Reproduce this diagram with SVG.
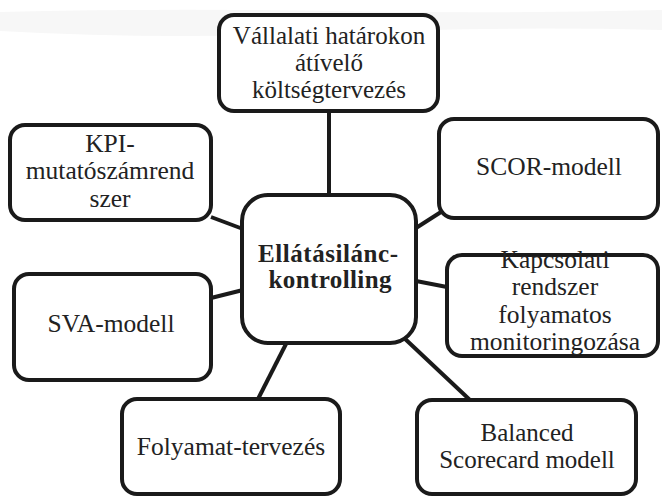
<svg xmlns="http://www.w3.org/2000/svg" width="662" height="498" viewBox="0 0 662 498">
<style>
.box{fill:#fff;stroke:#1a1a1a;stroke-width:4}
.t{font-family:'Liberation Serif','DejaVu Serif',serif;font-size:25.5px;fill:#222;text-anchor:middle}
.s{font-size:25px}
.b{font-weight:bold;font-size:25px}
.c line{stroke:#1a1a1a;stroke-width:4;stroke-linecap:butt}
</style>
<rect width="662" height="498" fill="#fff"/>
<path d="M0 12 Q160 8 330 11 T662 10 L662 30 Q500 26 330 33 T0 31 Z" fill="#f7f7f7"/>
<g class="c" id="connectors">
<line x1="329" y1="111" x2="329" y2="196"/>
<line x1="211" y1="217" x2="243" y2="229"/>
<line x1="416" y1="228" x2="441" y2="212"/>
<line x1="416" y1="281" x2="447" y2="287"/>
<line x1="211" y1="298" x2="243" y2="290"/>
<line x1="287" y1="342" x2="258" y2="399"/>
<line x1="402" y1="336" x2="471" y2="401"/>
</g>
<g id="n-top">
<rect class="box" x="219" y="15" width="219" height="96" rx="15"/>
<text class="t s" x="329" y="44">Vállalati határokon</text>
<text class="t s" x="329" y="71">átívelő</text>
<text class="t s" x="329" y="98">költségtervezés</text>
</g>
<g id="n-kpi">
<rect class="box" x="10" y="125" width="201" height="95" rx="15"/>
<text class="t" x="110" y="152">KPI-</text>
<text class="t" x="110" y="179">mutatószámrend</text>
<text class="t" x="110" y="207">szer</text>
</g>
<g id="n-scor">
<rect class="box" x="439" y="119" width="219" height="99" rx="15"/>
<text class="t" x="549" y="175">SCOR-modell</text>
</g>
<g id="n-kapcs">
<rect class="box" x="447" y="255" width="211" height="101" rx="15"/>
<text class="t" x="555" y="268">Kapcsolati</text>
<text class="t" x="555" y="295">rendszer</text>
<text class="t" x="555" y="323">folyamatos</text>
<text class="t" x="555" y="350">monitoringozása</text>
</g>
<g id="n-sva">
<rect class="box" x="14" y="274" width="197" height="106" rx="15"/>
<text class="t" x="111" y="332">SVA-modell</text>
</g>
<g id="n-center">
<rect class="box" x="242" y="195" width="174" height="148" rx="26"/>
<text class="t b" x="328" y="262" textLength="140" lengthAdjust="spacing">Ellátásilánc-</text>
<text class="t b" x="330" y="288" textLength="123" lengthAdjust="spacing">kontrolling</text>
</g>
<g id="n-folyamat">
<rect class="box" x="122" y="399" width="218" height="95" rx="15"/>
<text class="t" x="231" y="455">Folyamat-tervezés</text>
</g>
<g id="n-balanced">
<rect class="box" x="417" y="400" width="219" height="94" rx="15"/>
<text class="t s" x="527" y="441">Balanced</text>
<text class="t s" x="527" y="468">Scorecard modell</text>
</g>
</svg>
